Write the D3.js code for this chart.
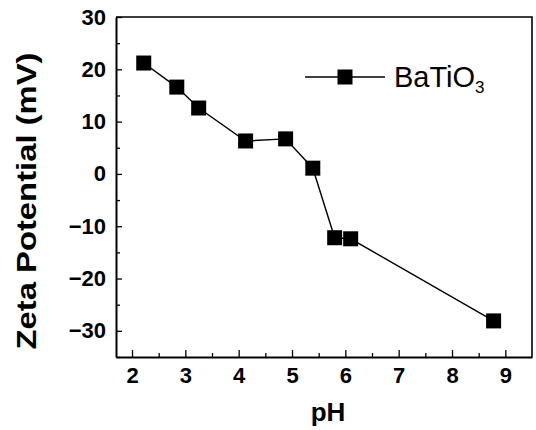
<!DOCTYPE html>
<html>
<head>
<meta charset="utf-8">
<script src="https://cdn.jsdelivr.net/npm/d3@7"></script>
<style>
  body { margin: 0; background: #fff; }
  svg { display: block; }
  .tick text { font-family: "Liberation Sans", Arial, sans-serif; font-weight: bold; font-size: 22px; fill: #000; }
</style>
</head>
<body>
<div id="chart"></div>
<script>
// zeta potential of BaTiO3 vs pH
var phValues = [2.22, 2.84, 3.25, 4.13, 4.88, 5.39, 5.80, 6.10, 8.78];
var zetaValues = [21.2, 16.6, 12.6, 6.3, 6.7, 1.1, -12.2, -12.4, -28.1];
var xTicks = [2, 3, 4, 5, 6, 7, 8, 9];
var yTicks = [-30, -20, -10, 0, 10, 20, 30];
var seriesName = "BaTiO";

var svgWidth = 536;
var svgHeight = 430;

var margin = { top: 17, right: 4, bottom: 73, left: 116 };
var width = svgWidth - margin.left - margin.right;
var height = svgHeight - margin.top - margin.bottom;

var svg = d3.select("#chart")
  .append("svg")
  .attr("width", svgWidth)
  .attr("height", svgHeight);

var chartGroup = svg.append("g")
  .attr("transform", `translate(${margin.left}, ${margin.top})`);

// scales
var xScale = d3.scaleLinear().domain([1.7, 9.5]).range([0, width]);
var yScale = d3.scaleLinear().domain([-35, 30]).range([height, 0]);

// minor ticks (inward)
var minorX = d3.range(2.5, 9.5, 1);
var minorY = d3.range(-35, 30, 5).filter(v => v % 10 !== 0);

chartGroup.append("g")
  .attr("transform", `translate(0, ${height})`)
  .call(d3.axisBottom(xScale).tickValues(minorX).tickSize(-4).tickFormat(""))
  .call(g => g.select(".domain").remove());

chartGroup.append("g")
  .call(d3.axisLeft(yScale).tickValues(minorY).tickSize(-4).tickFormat(""))
  .call(g => g.select(".domain").remove());

// major axes
var bottomAxis = d3.axisBottom(xScale).tickValues(xTicks).tickSize(-7).tickPadding(10).tickSizeOuter(0);
var leftAxis = d3.axisLeft(yScale).tickValues(yTicks).tickSize(-6).tickPadding(10).tickSizeOuter(0);

chartGroup.append("g")
  .attr("transform", `translate(0, ${height})`)
  .call(bottomAxis)
  .call(g => g.select(".domain").attr("stroke-width", 2));

chartGroup.append("g")
  .call(leftAxis)
  .call(g => g.select(".domain").attr("stroke-width", 2));

chartGroup.selectAll(".tick line").attr("stroke-width", 1.3);

// top and right frame
chartGroup.append("path")
  .attr("d", `M0,0H${width}V${height}`)
  .attr("fill", "none")
  .attr("stroke", "#000")
  .attr("stroke-width", 1.6);

// data line
var line = d3.line()
  .x((d, i) => xScale(phValues[i]))
  .y((d, i) => yScale(zetaValues[i]));

chartGroup.append("path")
  .datum(phValues)
  .attr("d", line)
  .attr("fill", "none")
  .attr("stroke", "#000")
  .attr("stroke-width", 1.4);

// square markers
var ms = 15;
chartGroup.selectAll("rect.pt")
  .data(phValues)
  .enter()
  .append("rect")
  .attr("class", "pt")
  .attr("x", d => xScale(d) - ms / 2)
  .attr("y", (d, i) => yScale(zetaValues[i]) - ms / 2)
  .attr("width", ms)
  .attr("height", ms)
  .attr("fill", "#000");

// legend
var legend = svg.append("g").attr("transform", "translate(305, 77)");
legend.append("line")
  .attr("x1", 0).attr("x2", 80)
  .attr("y1", 0).attr("y2", 0)
  .attr("stroke", "#000").attr("stroke-width", 1.4);
legend.append("rect")
  .attr("x", 40 - ms / 2).attr("y", -ms / 2)
  .attr("width", ms).attr("height", ms)
  .attr("fill", "#000");
var legText = legend.append("text")
  .attr("x", 89)
  .attr("y", 10)
  .style("font-family", "'Liberation Sans', Arial, sans-serif")
  .style("font-size", "29px");
legText.append("tspan").text(seriesName);
legText.append("tspan")
  .attr("dy", 6)
  .style("font-size", "17px")
  .text("3");

// axis titles
svg.append("text")
  .attr("transform", "translate(36, 201) rotate(-90)")
  .attr("text-anchor", "middle")
  .attr("textLength", 297)
  .attr("lengthAdjust", "spacingAndGlyphs")
  .style("font-family", "'Liberation Sans', Arial, sans-serif")
  .style("font-weight", "bold")
  .style("font-size", "28px")
  .text("Zeta Potential (mV)");

svg.append("text")
  .attr("x", 328)
  .attr("y", 421)
  .attr("text-anchor", "middle")
  .style("font-family", "'Liberation Sans', Arial, sans-serif")
  .style("font-weight", "bold")
  .style("font-size", "26px")
  .text("pH");
</script>
</body>
</html>
